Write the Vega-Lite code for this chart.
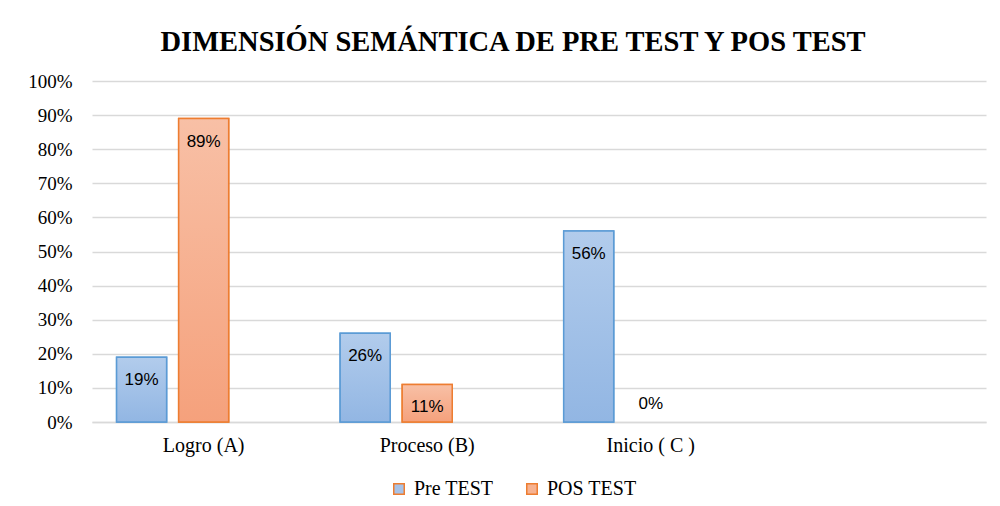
{
  "$schema": "https://vega.github.io/schema/vega-lite/v6.json",
  "width": 894,
  "height": 341,
  "autosize": {"type": "none"},
  "padding": {"left": 92, "top": 81, "right": 14, "bottom": 84},
  "background": "white",
  "title": {
    "text": "DIMENSIÓN SEMÁNTICA DE PRE TEST Y POS TEST",
    "font": "Liberation Serif",
    "fontSize": 28.5,
    "fontWeight": "bold",
    "color": "#000000",
    "anchor": "middle",
    "baseline": "alphabetic",
    "offset": -7,
    "dx": -26
  },
  "data": {
    "values": [
      {"category": "Logro (A)", "series": "Pre TEST", "value": 0.19},
      {"category": "Logro (A)", "series": "POS TEST", "value": 0.89},
      {"category": "Proceso (B)", "series": "Pre TEST", "value": 0.26},
      {"category": "Proceso (B)", "series": "POS TEST", "value": 0.11},
      {"category": "Inicio ( C )", "series": "Pre TEST", "value": 0.56},
      {"category": "Inicio ( C )", "series": "POS TEST", "value": 0}
    ]
  },
  "encoding": {
    "x": {
      "field": "category",
      "type": "nominal",
      "sort": null,
      "scale": {"domain": ["Logro (A)", "Proceso (B)", "Inicio ( C )", " "], "paddingInner": 0.221, "paddingOuter": 0.11},
      "axis": {
        "title": null,
        "labelAngle": 0,
        "labelFont": "Liberation Serif",
        "labelFontSize": 20,
        "labelColor": "#000000",
        "labelPadding": 13,
        "ticks": false,
        "domainColor": "#d9d9d9",
        "domainWidth": 1.5,
        "grid": false
      }
    },
    "xOffset": {
      "field": "series",
      "type": "nominal",
      "scale": {"domain": ["Pre TEST", "POS TEST", "_"], "paddingInner": 0.194, "paddingOuter": 0}
    },
    "y": {
      "field": "value",
      "type": "quantitative",
      "scale": {"domain": [0, 1]},
      "axis": {
        "title": null,
        "format": ".0%",
        "values": [0, 0.1, 0.2, 0.3, 0.4, 0.5, 0.6, 0.7, 0.8, 0.9, 1.0],
        "labelOverlap": false,
        "labelFont": "Liberation Serif",
        "labelFontSize": 19,
        "labelColor": "#000000",
        "labelPadding": 20,
        "ticks": false,
        "domain": false,
        "gridColor": "#d9d9d9",
        "gridWidth": 1.5
      }
    }
  },
  "layer": [
    {
      "mark": {"type": "bar", "strokeWidth": 1.5},
      "encoding": {
        "color": {
          "field": "series",
          "type": "nominal",
          "scale": {"domain": ["Pre TEST", "POS TEST"], "range": ["#a7c2e7", "#f6b291"]},
          "legend": {
            "title": null,
            "orient": "none",
            "direction": "horizontal",
            "legendX": 297,
            "legendY": 398,
            "symbolType": "square",
            "symbolSize": 110,
            "symbolStrokeWidth": 1.5,
            "labelFont": "Liberation Serif",
            "labelFontSize": 20,
            "labelColor": "#000000",
            "labelOffset": 5,
            "columnPadding": 28,
            "encode": {
              "symbols": {
                "update": {
                  "stroke": {"signal": "datum.value === 'Pre TEST' ? '#5b9bd5' : '#ed7d31'"},
                  "strokeWidth": {"value": 1.5}
                }
              }
            }
          }
        },
        "stroke": {
          "condition": [
            {"test": "datum.value == 0", "value": "transparent"},
            {"test": "datum.series === 'Pre TEST'", "value": "#5b9bd5"}
          ],
          "value": "#ed7d31"
        }
      }
    },
    {
      "mark": {"type": "bar", "strokeWidth": 1.5},
      "encoding": {
        "fill": {
          "condition": {
            "test": "datum.series === 'Pre TEST'",
            "value": {"gradient": "linear", "x1": 0, "y1": 0, "x2": 0, "y2": 1, "stops": [{"offset": 0, "color": "#b2ccec"}, {"offset": 1, "color": "#92b6e3"}]}
          },
          "value": {"gradient": "linear", "x1": 0, "y1": 0, "x2": 0, "y2": 1, "stops": [{"offset": 0, "color": "#f8c0a6"}, {"offset": 1, "color": "#f5a17c"}]}
        },
        "stroke": {
          "condition": [
            {"test": "datum.value == 0", "value": "transparent"},
            {"test": "datum.series === 'Pre TEST'", "value": "#5b9bd5"}
          ],
          "value": "#ed7d31"
        }
      }
    },
    {
      "transform": [{"filter": "datum.value > 0"}],
      "mark": {"type": "text", "font": "Liberation Sans", "fontSize": 17, "color": "#000000", "baseline": "middle", "dy": 23},
      "encoding": {"text": {"field": "value", "type": "quantitative", "format": ".0%"}}
    },
    {
      "transform": [{"filter": "datum.value == 0"}],
      "mark": {"type": "text", "font": "Liberation Sans", "fontSize": 17, "color": "#000000", "baseline": "middle", "dy": -18},
      "encoding": {"text": {"field": "value", "type": "quantitative", "format": ".0%"}}
    }
  ],
  "config": {"view": {"stroke": null}}
}
